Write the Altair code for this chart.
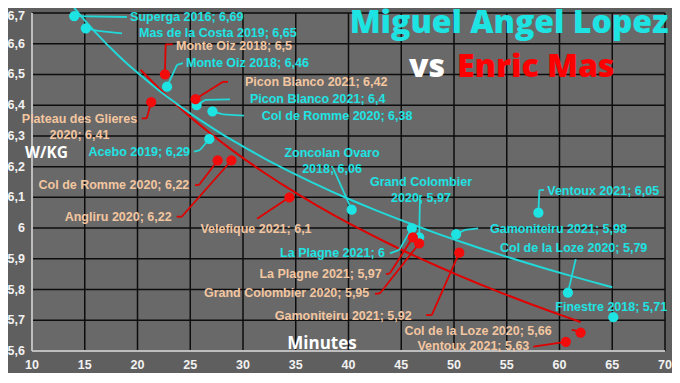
import altair as alt
import pandas as pd

# ---------------- data ----------------
lopez_names = ["Superga 2016", "Mas de la Costa 2019", "Monte Oiz 2018", "Picon Blanco 2021",
               "Col de Romme 2020", "Acebo 2019", "Zoncolan Ovaro 2018", "Grand Colombier 2020",
               "La Plagne 2021", "Gamoniteiru 2021", "Ventoux 2021", "Col de la Loze 2020",
               "Finestre 2018"]
lopez_minutes = [14.0, 15.1, 22.8, 25.6, 27.1, 26.8, 40.3, 46.7, 46.0, 50.2, 58.0, 60.8, 65.1]
lopez_wkg = [6.69, 6.65, 6.46, 6.40, 6.38, 6.29, 6.06, 5.97, 6.00, 5.98, 6.05, 5.79, 5.71]

mas_names = ["Monte Oiz 2018", "Plateau des Glieres 2020", "Picon Blanco 2021", "Col de Romme 2020",
             "Angliru 2020", "Velefique 2021", "La Plagne 2021", "Grand Colombier 2020",
             "Gamoniteiru 2021", "Col de la Loze 2020", "Ventoux 2021"]
mas_minutes = [22.6, 21.3, 25.5, 27.6, 28.9, 34.4, 46.1, 46.7, 50.5, 62.0, 60.6]
mas_wkg = [6.50, 6.41, 6.42, 6.22, 6.22, 6.10, 5.97, 5.95, 5.92, 5.66, 5.63]

x_ticks = [10, 15, 20, 25, 30, 35, 40, 45, 50, 55, 60, 65, 70]
y_ticks = [5.6, 5.7, 5.8, 5.9, 6.0, 6.1, 6.2, 6.3, 6.4, 6.5, 6.6, 6.7]

# ---------------- label layout (data units) ----------------
lopez_wrap = [False, False, False, False, False, False, True, True, False, False, False, False, False]
lopez_align = ["left", "left", "left", "left", "left", "right", "center", "center", "right",
               "left", "left", "left", "left"]
lopez_lab_x = [19.3, 20.14, 24.6, 30.66, 31.77, 24.98, 38.44, 46.87, 43.46, 53.41, 58.84, 54.36, 59.6]
lopez_lab_y = [6.686, 6.634, 6.538, 6.419, 6.366, 6.249, 6.244, 6.150, 5.918, 5.996, 6.122, 5.934, 5.744]
lopez_elb_x = [19.0, 16.26, 23.74, 26.40, 28.10, 25.92, 38.53, 46.78, 44.81, 51.04, 58.09, 61.54, 65.1]
lopez_elb_y = [6.687, 6.642, 6.531, 6.417, 6.370, 6.254, 6.196, 6.108, 5.929, 5.994, 6.124, 5.899, 5.71]
lopez_end_x = [19.0, 18.53, 24.31, 28.77, 30.09, 25.36, 38.53, 46.78, 43.93, 52.30, 58.53, 61.54, 65.1]
lopez_end_y = [6.687, 6.634, 6.537, 6.419, 6.366, 6.249, 6.196, 6.108, 5.918, 5.999, 6.124, 5.899, 5.71]

mas_wrap = [False, True, False, False, False, False, False, False, False, False, False]
mas_align = ["left", "center", "left", "right", "right", "center", "right", "right", "right",
             "right", "right"]
mas_lab_x = [23.65, 14.50, 30.19, 24.91, 23.24, 31.23, 43.15, 41.97, 45.99, 59.26, 57.14]
mas_lab_y = [6.593, 6.355, 6.476, 6.140, 6.037, 5.997, 5.850, 5.788, 5.715, 5.666, 5.616]
mas_elb_x = [22.67, 20.87, 28.10, 25.83, 24.19, 31.33, 43.93, 42.99, 47.89, 61.37, 57.52]
mas_elb_y = [6.598, 6.357, 6.476, 6.140, 6.037, 6.030, 5.853, 5.788, 5.717, 5.668, 5.614]
mas_end_x = [23.34, 20.40, 28.58, 25.45, 23.72, 31.33, 43.55, 42.51, 47.35, 61.16, 57.52]
mas_end_y = [6.598, 6.357, 6.476, 6.140, 6.037, 6.030, 5.850, 5.786, 5.717, 5.668, 5.614]

CYAN = "#1ee3e3"
CYAN_LINE = "#22d8d8"
RED = "#f20c0c"
RED_LINE = "#e00000"
PEACH = "#f3c6a0"
LABEL_FONT = "Liberation Sans"
PLOT_H = 338


def fmt(v):
    return f"{v:g}".replace(".", ",")


def make_label(name, v, wrap):
    if wrap:
        head, year = name.rsplit(" ", 1)
        return f"{head}\n{year}; {fmt(v)}"
    return f"{name}; {fmt(v)}"


def build(names, minutes, wkg, wrap, align, lx, ly, ex, ey, nx, ny):
    return pd.DataFrame({
        "name": names, "minutes": minutes, "wkg": wkg,
        "label": [make_label(n, v, w) for n, v, w in zip(names, wkg, wrap)],
        "align": align, "lx": lx, "ly": ly, "ex": ex, "ey": ey, "nx": nx, "ny": ny,
    })


lopez = build(lopez_names, lopez_minutes, lopez_wkg, lopez_wrap, lopez_align,
              lopez_lab_x, lopez_lab_y, lopez_elb_x, lopez_elb_y, lopez_end_x, lopez_end_y)
mas = build(mas_names, mas_minutes, mas_wkg, mas_wrap, mas_align,
            mas_lab_x, mas_lab_y, mas_elb_x, mas_elb_y, mas_end_x, mas_end_y)

xscale = alt.Scale(domain=[10, 70], nice=False, zero=False)
yscale = alt.Scale(domain=[5.6, 6.7], nice=False, zero=False)


def X(field):
    return alt.X(field, scale=xscale, axis=None)


def Y(field):
    return alt.Y(field, scale=yscale, axis=None)


xt = pd.DataFrame({"v": x_ticks, "t": [fmt(v) for v in x_ticks]})
yt = pd.DataFrame({"v": y_ticks, "t": [fmt(v) for v in y_ticks]})

# gridlines (black) from the tick arrays
vgrid = alt.Chart(xt.iloc[1:]).mark_rule(color="#0d0d0d", strokeWidth=1.5).encode(x=X("v:Q"))
hgrid = alt.Chart(yt.iloc[1:]).mark_rule(color="#0d0d0d", strokeWidth=1.5).encode(y=Y("v:Q"))
# axis lines (light grey)
xdomain = alt.Chart(yt.iloc[:1]).mark_rule(color="#bdbdbd", strokeWidth=2).encode(y=Y("v:Q"))
ydomain = alt.Chart(xt.iloc[:1]).mark_rule(color="#bdbdbd", strokeWidth=2).encode(x=X("v:Q"))
# tick labels
tick_style = dict(font=LABEL_FONT, fontWeight="bold", fontSize=12.5, color="#f2f2f2")
xlabels = alt.Chart(xt).mark_text(align="center", baseline="middle", **tick_style).encode(
    x=X("v:Q"), y=alt.value(PLOT_H + 14), text="t:N")
ylabels = alt.Chart(yt.iloc[:-1]).mark_text(align="right", baseline="middle", **tick_style).encode(
    y=Y("v:Q"), x=alt.value(-7), text="t:N")
ylabel_top = alt.Chart(yt.iloc[-1:]).mark_text(align="right", baseline="middle", dy=3,
                                               **tick_style).encode(
    y=Y("v:Q"), x=alt.value(-7), text="t:N")


def trend(df, color, extent):
    return alt.Chart(df).transform_regression(
        "minutes", "wkg", method="log", extent=extent
    ).mark_line(color=color, strokeWidth=2).encode(x=X("minutes:Q"), y=Y("wkg:Q"))


def leaders(df, color):
    seg1 = alt.Chart(df).mark_rule(color=color, strokeWidth=1.8).encode(
        x=X("minutes:Q"), y=Y("wkg:Q"), x2="ex:Q", y2="ey:Q")
    seg2 = alt.Chart(df).mark_rule(color=color, strokeWidth=1.8).encode(
        x=X("ex:Q"), y=Y("ey:Q"), x2="nx:Q", y2="ny:Q")
    return [seg1, seg2]


def points(df, color):
    return alt.Chart(df).mark_circle(color=color, size=105, opacity=1).encode(
        x=X("minutes:Q"), y=Y("wkg:Q"))


def labels(df, color):
    out = []
    for a in ["left", "right", "center"]:
        out.append(
            alt.Chart(df).transform_filter(alt.datum.align == a).mark_text(
                align=a, baseline="middle", font=LABEL_FONT, fontWeight="bold",
                fontSize=12.5, color=color, lineBreak="\n", lineHeight=15.5,
            ).encode(x=X("lx:Q"), y=Y("ly:Q"), text="label:N")
        )
    return out


one = pd.DataFrame({"k": [0]})
title1 = alt.Chart(one).mark_text(
    text="Miguel Angel Lopez", font="Open Sans", fontWeight=800, fontSize=32,
    color=CYAN, align="center", baseline="alphabetic"
).encode(x=alt.value(477), y=alt.value(20))
title_vs = alt.Chart(one).mark_text(
    text="vs", font="Open Sans", fontWeight=800, fontSize=32,
    color="#ffffff", align="right", baseline="alphabetic"
).encode(x=alt.value(413), y=alt.value(64))
title_mas = alt.Chart(one).mark_text(
    text="Enric Mas", font="Open Sans", fontWeight=800, fontSize=32,
    color="#ff0000", align="left", baseline="alphabetic"
).encode(x=alt.value(425), y=alt.value(64))
ytitle = alt.Chart(one).mark_text(
    text="W/KG", font="Open Sans", fontWeight="bold", fontSize=15.5,
    color="#ffffff", align="left", baseline="middle"
).encode(x=alt.value(-7), y=alt.value(140))
xtitle = alt.Chart(one).mark_text(
    text="Minutes", font="Open Sans", fontWeight="bold", fontSize=17,
    color="#ffffff", align="center", baseline="middle"
).encode(x=alt.value(290), y=alt.value(331))

layers = [vgrid, hgrid, xdomain, ydomain, xlabels, ylabels, ylabel_top,
          trend(mas, RED_LINE, [20.3, 62.0]),
          trend(lopez, CYAN_LINE, [14.0, 65.0])]
layers += leaders(lopez, CYAN_LINE)
layers += leaders(mas, RED_LINE)
layers += [points(lopez, CYAN), points(mas, RED)]
layers += labels(lopez, CYAN)
layers += labels(mas, PEACH)
layers += [title1, title_vs, title_mas, ytitle, xtitle]

chart = alt.layer(*layers).properties(
    width=633, height=PLOT_H,
    autosize=alt.AutoSizeParams(type="none"),
    padding={"left": 24, "top": 5, "right": 7, "bottom": 22},
    background="#5f5f5f",
).configure_view(fill="#696969", stroke="transparent")

chart.save("out.html", embed_options={"renderer": "svg", "actions": False})
